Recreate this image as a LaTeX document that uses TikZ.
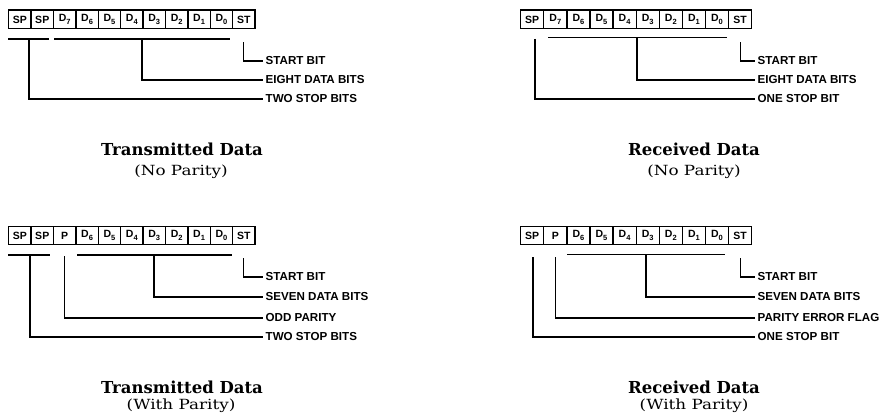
\documentclass[tikz,border=0pt]{standalone}
\usepackage{fontspec}
\setmainfont{Liberation Sans}
\newfontfamily\ttlfont{DejaVu Serif}
\newfontfamily\sttlfont[FakeStretch=1.2]{DejaVu Serif}
\newcommand\subn[1]{\raisebox{-0.3em}{\fontsize{7.5}{8}\selectfont #1}}
\tikzset{
  cell/.style={draw, line width=1.3pt, minimum height=18.5pt, inner sep=0pt, anchor=north west,
    font=\fontsize{10.5}{11}\selectfont\bfseries},
  cellL/.style={cell, minimum width=22.4pt},
  cellR/.style={cell, minimum width=23.1pt},
  lab/.style={anchor=west, inner xsep=2.5pt, inner ysep=0pt, font=\fontsize{11.6}{12}\selectfont\bfseries},
  conn/.style={line width=1.15pt},
  ttl/.style={font=\fontsize{16.5}{17}\selectfont\ttlfont\bfseries},
  sttl/.style={font=\fontsize{14}{15}\selectfont\sttlfont},
}
\begin{document}
\begin{tikzpicture}[x=1pt,y=-1pt]
\useasboundingbox (0,0) rectangle (883,420);
% ---------- top left: transmitted, no parity
\foreach \t [count=\i from 0] in {SP,SP,{D\subn{7}},{D\subn{6}},{D\subn{5}},{D\subn{4}},{D\subn{3}},{D\subn{2}},{D\subn{1}},{D\subn{0}},ST}
  \node[cellL] (tl\i) at ({8+22.4*\i},9.5) {\t};
\node[lab] (tlst) at (263,61) {START BIT};
\node[lab] (tldb) at (263,80) {EIGHT DATA BITS};
\node[lab] (tlsp) at (263,99) {TWO STOP BITS};
\coordinate (tlua1) at (8,39); \coordinate (tlua2) at (49,39);
\coordinate (tlub1) at (54,39); \coordinate (tlub2) at (230,39);
\coordinate (tlva) at (29,39); \coordinate (tlvb) at (142,39);
\draw[conn] (tlua1) -- (tlua2);
\draw[conn] (tlub1) -- (tlub2);
\draw[conn] (tlva) |- (tlsp.west);
\draw[conn] (tlvb) |- (tldb.west);
\draw[conn] ([yshift=-13pt]tl10.south) |- (tlst.west);
\node[ttl] (tlt) at (182,149) {Transmitted Data};
\node[sttl] (tls) at (181,172) {(No Parity)};
% ---------- top right: received, no parity
\foreach \t [count=\i from 0] in {SP,{D\subn{7}},{D\subn{6}},{D\subn{5}},{D\subn{4}},{D\subn{3}},{D\subn{2}},{D\subn{1}},{D\subn{0}},ST}
  \node[cellR] (tr\i) at ({520+23.1*\i},9.5) {\t};
\node[lab] (trst) at (755,61) {START BIT};
\node[lab] (trdb) at (755,80) {EIGHT DATA BITS};
\node[lab] (trsp) at (755,99) {ONE STOP BIT};
\coordinate (trub1) at (548,37.5); \coordinate (trub2) at (727,37.5);
\coordinate (trva) at (535,39); \coordinate (trvb) at (637,37.5);
\draw[conn] (trub1) -- (trub2);
\draw[conn] (trva) |- (trsp.west);
\draw[conn] (trvb) |- (trdb.west);
\draw[conn] ([yshift=-13pt]tr9.south) |- (trst.west);
\node[ttl] (trt) at (694,149) {Received Data};
\node[sttl] (trs) at (694,172) {(No Parity)};
% ---------- bottom left: transmitted, with parity
\foreach \t [count=\i from 0] in {SP,SP,P,{D\subn{6}},{D\subn{5}},{D\subn{4}},{D\subn{3}},{D\subn{2}},{D\subn{1}},{D\subn{0}},ST}
  \node[cellL] (bl\i) at ({8+22.4*\i},225.5) {\t};
\node[lab] (blst) at (263,277) {START BIT};
\node[lab] (bldb) at (263,297) {SEVEN DATA BITS};
\node[lab] (blpa) at (263,318) {ODD PARITY};
\node[lab] (blsp) at (263,337) {TWO STOP BITS};
\coordinate (blua1) at (8,255); \coordinate (blua2) at (50,255);
\coordinate (blub1) at (77,255); \coordinate (blub2) at (232,255);
\coordinate (blva) at (30,255); \coordinate (blvp) at (64.5,256);
\coordinate (blvb) at (154,255);
\draw[conn] (blua1) -- (blua2);
\draw[conn] (blub1) -- (blub2);
\draw[conn] (blva) |- (blsp.west);
\draw[conn] (blvp) |- (blpa.west);
\draw[conn] (blvb) |- (bldb.west);
\draw[conn] ([yshift=-13pt]bl10.south) |- (blst.west);
\node[ttl] (blt) at (182,387) {Transmitted Data};
\node[sttl] (bls) at (181,406) {(With Parity)};
% ---------- bottom right: received, with parity
\foreach \t [count=\i from 0] in {SP,P,{D\subn{6}},{D\subn{5}},{D\subn{4}},{D\subn{3}},{D\subn{2}},{D\subn{1}},{D\subn{0}},ST}
  \node[cellR] (br\i) at ({520+23.1*\i},225.5) {\t};
\node[lab] (brst) at (755,277) {START BIT};
\node[lab] (brdb) at (755,297) {SEVEN DATA BITS};
\node[lab] (brpa) at (755,318) {PARITY ERROR FLAG};
\node[lab] (brsp) at (755,337) {ONE STOP BIT};
\coordinate (brub1) at (567,254.5); \coordinate (brub2) at (725,254.5);
\coordinate (brva) at (533,257); \coordinate (brvp) at (555.5,257);
\coordinate (brvb) at (646,254.5);
\draw[conn] (brub1) -- (brub2);
\draw[conn] (brva) |- (brsp.west);
\draw[conn] (brvp) |- (brpa.west);
\draw[conn] (brvb) |- (brdb.west);
\draw[conn] ([yshift=-13pt]br9.south) |- (brst.west);
\node[ttl] (brt) at (694,387) {Received Data};
\node[sttl] (brs) at (694,406) {(With Parity)};
\end{tikzpicture}
\end{document}
